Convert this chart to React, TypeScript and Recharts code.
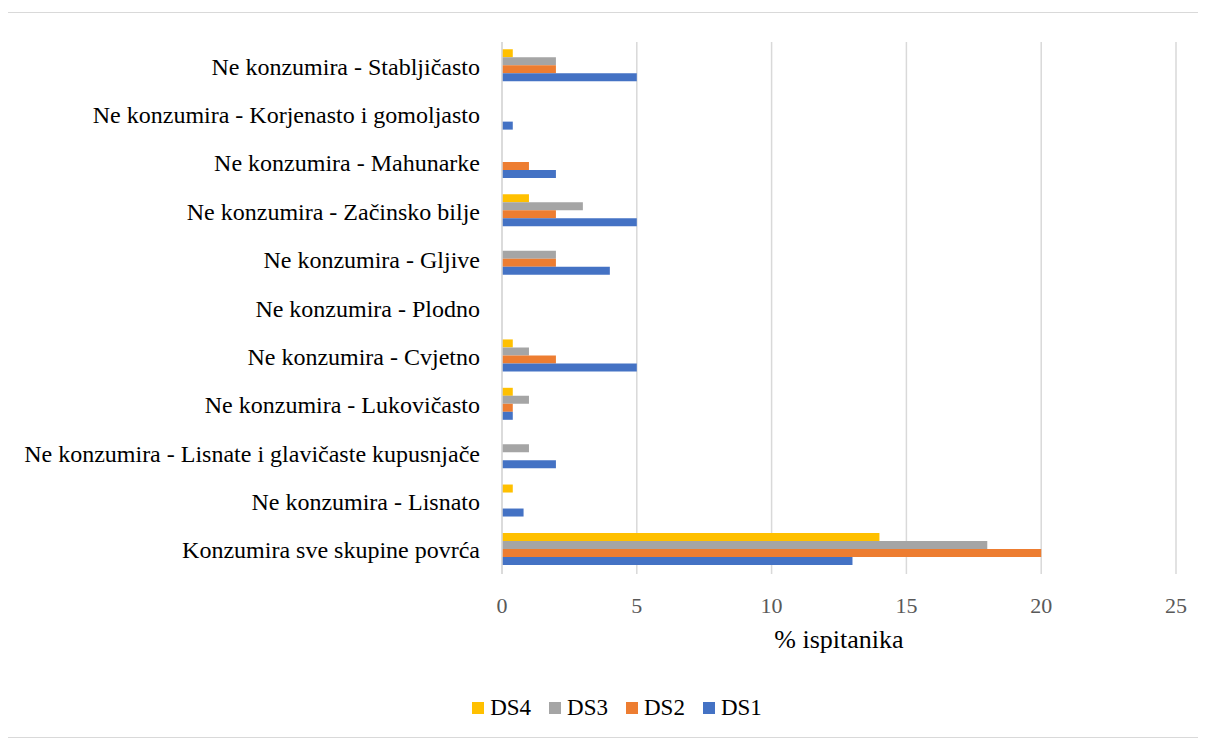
import { BarChart, Bar, XAxis, YAxis, CartesianGrid, Label } from "recharts";

const categories = [
  "Konzumira sve skupine povrća",
  "Ne konzumira - Lisnato",
  "Ne konzumira - Lisnate i glavičaste kupusnjače",
  "Ne konzumira - Lukovičasto",
  "Ne konzumira - Cvjetno",
  "Ne konzumira - Plodno",
  "Ne konzumira - Gljive",
  "Ne konzumira - Začinsko bilje",
  "Ne konzumira - Mahunarke",
  "Ne konzumira - Korjenasto i gomoljasto",
  "Ne konzumira - Stabljičasto",
];

const ds1 = [13, 0.8, 2, 0.4, 5, 0, 4, 5, 2, 0.4, 5];
const ds2 = [20, 0, 0, 0.4, 2, 0, 2, 2, 1, 0, 2];
const ds3 = [18, 0, 1, 1, 1, 0, 2, 3, 0, 0, 2];
const ds4 = [14, 0.4, 0, 0.4, 0.4, 0, 0, 1, 0, 0, 0.4];

const xTicks = [0, 5, 10, 15, 20, 25];

// legend order as shown, left to right
const series = [
  { key: "DS4", values: ds4, color: "#FFC000" },
  { key: "DS3", values: ds3, color: "#A5A5A5" },
  { key: "DS2", values: ds2, color: "#ED7D31" },
  { key: "DS1", values: ds1, color: "#4472C4" },
];

const data = categories.map((name, i) => {
  const row: Record<string, string | number> = { name };
  series.forEach((s) => (row[s.key] = s.values[i]));
  return row;
});

const FONT = "'Liberation Serif', 'Times New Roman', serif";

export default function App() {
  return (
    <div
      style={{
        position: "relative",
        width: 1200,
        height: 726,
        marginLeft: -1,
        marginTop: 4,
        border: "1px solid #d9d9d9",
        boxSizing: "border-box",
        fontFamily: FONT,
      }}
    >
      <BarChart
        width={1198}
        height={724}
        data={data}
        layout="vertical"
        margin={{ top: 29, right: 30, left: 0, bottom: 83 }}
        barCategoryGap="15%"
        barGap={0}
      >
        <CartesianGrid horizontal={false} stroke="#d9d9d9" strokeWidth={1.5} />
        <XAxis
          type="number"
          domain={[0, 25]}
          ticks={xTicks}
          axisLine={false}
          tickLine={false}
          tickMargin={17}
          height={80}
          tick={{ fill: "#595959", fontSize: 22, fontFamily: FONT }}
        >
          <Label
            value="% ispitanika"
            position="insideBottom"
            offset={6}
            style={{ fill: "#000", fontSize: 26, fontFamily: FONT }}
          />
        </XAxis>
        <YAxis
          type="category"
          dataKey="name"
          reversed
          width={494}
          axisLine={{ stroke: "#d9d9d9", strokeWidth: 1.5 }}
          tickLine={false}
          tickMargin={16}
          interval={0}
          tick={{ fill: "#000", fontSize: 24, fontFamily: FONT }}
        />
        {series.map((s) => (
          <Bar key={s.key} dataKey={s.key} fill={s.color} isAnimationActive={false} />
        ))}
      </BarChart>
      <div
        style={{
          position: "absolute",
          top: 682,
          left: 0,
          width: "100%",
          display: "flex",
          justifyContent: "center",
          paddingLeft: 20,
          boxSizing: "border-box",
          gap: 18,
          fontSize: 23,
          color: "#000",
        }}
      >
        {series.map((s) => (
          <div key={s.key} style={{ display: "flex", alignItems: "center", gap: 6 }}>
            <span style={{ width: 12, height: 12, background: s.color, display: "inline-block" }} />
            <span>{s.key}</span>
          </div>
        ))}
      </div>
    </div>
  );
}
